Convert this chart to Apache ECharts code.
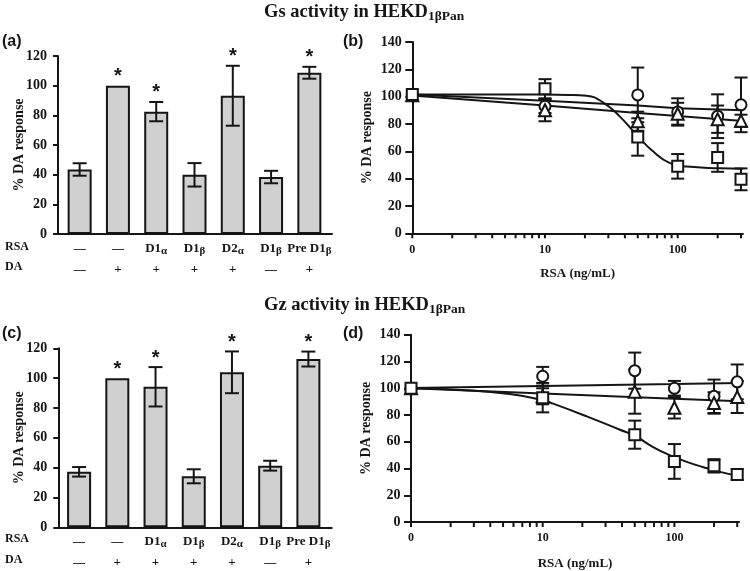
<!DOCTYPE html>
<html><head><meta charset="utf-8">
<script src="https://cdn.jsdelivr.net/npm/echarts@6/dist/echarts.min.js"></script>
<style>html,body{margin:0;padding:0;background:#fff}#c{width:750px;height:571px}</style>
</head><body><div id="c"></div>
<script>
// ---------------- DATA ----------------
const rsaMain  = ['—','—','D1','D1','D2','D1','Pre D1'];
const rsaSub   = ['','','α','β','α','β','β'];
const daLabels = ['—','+','+','+','+','—','+'];

const gsMeans = [43.5, 100, 82.5, 39.9, 93.2, 38.4, 108.7];
const gsErr   = [4.2, 0, 6.5, 7.9, 20.2, 4.2, 4.0];
const gsSig   = [0, 1, 1, 0, 1, 0, 1];

const gzMeans = [37.2, 100, 94.2, 34.2, 103.9, 41.3, 112.8];
const gzErr   = [3.2, 0, 13.2, 4.7, 14.0, 3.3, 5.0];
const gzSig   = [0, 1, 1, 0, 1, 0, 1];

const barTicks = [0, 20, 40, 60, 80, 100, 120];
const doseTicks = [0, 20, 40, 60, 80, 100, 120, 140];

// RSA concentrations (ng/mL); 0 is drawn at the axis origin (labelled "0")
const conc = [0, 10, 50, 100, 200, 300];

const gsCircle    = [101.5, 93, 101.3, 88.8, 85.7, 94];
const gsCircleErr = [0, 5, 20, 10, 16, 20];
const gsTri       = [101, 90, 82, 87.5, 83.5, 82.3];
const gsTriErr    = [0, 8, 7, 8, 10, 4.5];
const gsSq        = [101.5, 105.8, 70.5, 49, 55.5, 39.5];
const gsSqErr     = [0, 7, 13.7, 9, 10.5, 8];

const gzCircle    = [100, 109, 113.2, 100, 94, 104.8];
const gzCircleErr = [0, 7, 13.5, 5.5, 12.5, 13];
const gzTri       = [100, 94, 97.5, 85.4, 89, 93.5];
const gzTriErr    = [0, 6, 16.5, 8, 8, 12];
const gzSq        = [100, 93, 65.3, 45.3, 42, 35.6];
const gzSqErr     = [0, 11, 10.5, 13, 5, 4];

// fitted curves
const gsCircleFitX = [1, 10, 50, 100, 310];
const gsCircleFitY = [101.5, 97, 93.5, 91.5, 90];
const gsTriFitX    = [1, 10, 50, 100, 310];
const gsTriFitY    = [100.8, 93.5, 88, 85.8, 82.2];
const gsSqFitX     = [1, 10, 15, 20.6, 27.5, 36.7, 49, 65.5, 87.4, 117, 209, 310];
const gsSqFitY     = [101.5, 101.5, 101.3, 100.6, 95.7, 85.4, 72, 59.8, 51.3, 48.8, 47.6, 47.2];

const gzCircleFitX = [1, 10, 100, 310];
const gzCircleFitY = [100.3, 101.8, 103.2, 104];
const gzTriFitX    = [1, 10, 100, 310];
const gzTriFitY    = [100, 96.1, 92.2, 90.3];
const gzSqFitX     = [1, 2.4, 5.8, 10, 12, 21.6, 38.6, 50, 69, 92, 124, 166, 222, 310];
const gzSqFitY     = [100, 98.8, 95.5, 91, 88.5, 79, 69, 64.5, 56, 50, 45, 41, 37.5, 34.3];

const majorLogTicks = [1, 10, 100];
const minorLogTicks = [2,3,4,5,6,7,8,9,20,30,40,50,60,70,80,90,200,300];

// ---------------- CHART ----------------
const SERIF = "'Liberation Serif','Times New Roman',serif";
const SANS = "'Liberation Sans',Arial,sans-serif";
const INK = '#151515';
const chart = echarts.init(document.getElementById('c'));

const xPlot = conc.map(c => c === 0 ? 1 : c);
const zip = (xs, ys) => xs.map((x, i) => [x, ys[i]]);

function catLabel(v, i) {
  const r = rsaMain[i] === '—' ? '{k|—}' : '{m|' + rsaMain[i] + '}' + (rsaSub[i] ? '{s|' + rsaSub[i] + '}' : '');
  const d = daLabels[i] === '—' ? '{k|—}' : '{m|' + daLabels[i] + '}';
  return r + '\n' + d;
}
const catRich = {
  m: {fontFamily: SERIF, fontWeight: 'bold', fontSize: 13, color: INK, lineHeight: 21},
  s: {fontFamily: SERIF, fontWeight: 'bold', fontSize: 11, color: INK, lineHeight: 21, padding: [5, 0, 0, 0]},
  k: {fontFamily: SERIF, fontWeight: 'bold', fontSize: 12, color: INK, lineHeight: 21}
};

function frameX(gi) {
  return {gridIndex: gi, type: 'value', min: 0, max: 1, axisLine: {lineStyle: {color: INK, width: 2}},
    axisTick: {show: false}, axisLabel: {show: false}, splitLine: {show: false}};
}
function catX(gi) {
  return {gridIndex: gi, type: 'category', data: rsaMain.map((_, i) => String(i)),
    axisLine: {show: false}, axisTick: {show: false}, splitLine: {show: false},
    axisLabel: {interval: 0, margin: 4, formatter: catLabel, rich: catRich}};
}
function logX(gi, margin, gap) {
  return {gridIndex: gi, type: 'log', logBase: 10, min: 1, max: 310,
    axisLine: {onZero: false, lineStyle: {color: INK, width: 2}}, axisTick: {show: false},
    splitLine: {show: false}, minorTick: {show: false},
    axisLabel: {margin: margin, showMaxLabel: false, fontFamily: SERIF, fontWeight: 'bold', fontSize: 12, color: INK,
      formatter: v => majorLogTicks.some(t => Math.abs(t - v) < 1e-6) ? (Math.abs(v - 1) < 1e-6 ? '0' : String(Math.round(v))) : ''},
    name: 'RSA (ng/mL)', nameLocation: 'middle', nameGap: gap, nameMoveOverlap: false,
    nameTextStyle: {fontFamily: SERIF, fontWeight: 'bold', fontSize: 13, color: INK}};
}
function valY(gi, ticks, tickLen, margin, gap, show) {
  const o = {gridIndex: gi, type: 'value', min: ticks[0], max: ticks[ticks.length - 1], interval: ticks[1] - ticks[0]};
  if (!show) { o.show = false; return o; }
  Object.assign(o, {
    axisLine: {show: true, onZero: false, lineStyle: {color: INK, width: 2}},
    axisTick: {show: true, length: tickLen, lineStyle: {color: INK, width: 2}},
    splitLine: {show: false},
    axisLabel: {margin: margin, fontFamily: SERIF, fontWeight: 'bold', fontSize: 14, color: INK},
    name: '% DA response', nameLocation: 'middle', nameGap: gap, nameRotate: 90, nameMoveOverlap: false,
    nameTextStyle: {fontFamily: SERIF, fontWeight: 'bold', fontSize: 14, color: INK}
  });
  return o;
}

function lineEl(x1, y1, x2, y2) {
  return {type: 'line', shape: {x1, y1, x2, y2}, style: {stroke: INK, lineWidth: 2}};
}
function barErrSeries(xi, means, errs, sig) {
  return {type: 'custom', xAxisIndex: xi, yAxisIndex: xi, z: 5, clip: false,
    data: means.map((m, i) => [i, m - errs[i], m + errs[i], sig[i]]),
    renderItem: (p, api) => {
      const i = api.value(0), lo = api.value(1), hi = api.value(2), s = api.value(3);
      const a = api.coord([i, lo]), b = api.coord([i, hi]);
      const kids = [];
      if (hi - lo > 0.01) {
        kids.push(lineEl(a[0], a[1], b[0], b[1]), lineEl(a[0] - 7, a[1], a[0] + 7, a[1]), lineEl(b[0] - 7, b[1], b[0] + 7, b[1]));
      }
      if (s) kids.push({type: 'text', style: {text: '*', x: b[0], y: b[1] - 9, align: 'center', verticalAlign: 'middle',
        textAlign: 'center', textVerticalAlign: 'middle', font: 'bold 20px ' + SANS, fill: INK}});
      return {type: 'group', children: kids};
    }};
}
function ptErrSeries(xi, means, errs) {
  return {type: 'custom', xAxisIndex: xi, yAxisIndex: xi, z: 4, clip: false,
    data: means.map((m, i) => [xPlot[i], m - errs[i], m + errs[i]]).filter(d => d[2] - d[1] > 0.01),
    renderItem: (p, api) => {
      const x = api.value(0), a = api.coord([x, api.value(1)]), b = api.coord([x, api.value(2)]);
      return {type: 'group', children: [lineEl(a[0], a[1], b[0], b[1]),
        lineEl(a[0] - 6.5, a[1], a[0] + 6.5, a[1]), lineEl(b[0] - 6.5, b[1], b[0] + 6.5, b[1])]};
    }};
}
function tickSeries(xi) {
  return {type: 'custom', xAxisIndex: xi, yAxisIndex: xi, z: 3, clip: false, silent: true,
    data: majorLogTicks.concat(minorLogTicks).map(v => [v, 0]),
    renderItem: (p, api) => {
      const a = api.coord([api.value(0), 0]);
      return lineEl(a[0], a[1], a[0], a[1] + 5);
    }};
}
function fitSeries(xi, xs, ys, smooth) {
  return {type: 'line', xAxisIndex: xi, yAxisIndex: xi, data: zip(xs, ys), smooth: smooth, showSymbol: false,
    symbol: 'none', lineStyle: {color: INK, width: 2}, z: 2, silent: true};
}
function ptSeries(xi, ys, sym, size) {
  return {type: 'scatter', xAxisIndex: xi, yAxisIndex: xi, data: zip(xPlot, ys), symbol: sym, symbolSize: size, z: 6,
    itemStyle: {color: '#fff', borderColor: INK, borderWidth: 2, opacity: 1}};
}

const titleRich = {
  a: {fontFamily: SERIF, fontWeight: 'bold', fontSize: 18.5, color: INK, lineHeight: 24},
  s: {fontFamily: SERIF, fontWeight: 'bold', fontSize: 13.5, color: INK, lineHeight: 24, padding: [10, 0, 0, 0]}
};

const option = {
  animation: false,
  backgroundColor: '#fff',
  title: [
    {text: '{a|Gs activity in HEKD}{s|1βPan}', left: 264, top: 0, padding: 0, textStyle: {rich: titleRich}},
    {text: '{a|Gz activity in HEKD}{s|1βPan}', left: 264, top: 293, padding: 0, textStyle: {rich: titleRich}}
  ],
  graphic: [
    ['(a)', 2, 43], ['(b)', 343, 43], ['(c)', 2, 335], ['(d)', 343, 335]
  ].map(t => ({type: 'text', left: t[1], top: t[2] - 9, style: {text: t[0], font: 'bold 16px ' + SANS, fill: INK}}))
  .concat([
    ['RSA', 248], ['DA', 268], ['RSA', 540], ['DA', 561]
  ].map(t => ({type: 'text', left: 5, top: t[1] - 7, style: {text: t[0], font: 'bold 12px ' + SERIF, fill: INK}}))),
  grid: [
    {left: 58, top: 56, width: 274, height: 178},
    {left: 60.5, top: 56, width: 268, height: 178},
    {left: 412.3, top: 42, width: 330.6, height: 191.3},
    {left: 58.3, top: 348.3, width: 273.4, height: 179},
    {left: 60, top: 348.3, width: 267.5, height: 179},
    {left: 411, top: 334.8, width: 328.1, height: 192.9}
  ],
  xAxis: [frameX(0), catX(1), logX(2, 11, 34), frameX(3), catX(4), logX(5, 10, 35)],
  yAxis: [
    valY(0, barTicks, 5, 11, 32, true), valY(1, barTicks, 0, 0, 0, false),
    valY(2, doseTicks, 7, 10.5, 38, true),
    valY(3, barTicks, 5, 11, 32, true), valY(4, barTicks, 0, 0, 0, false),
    valY(5, doseTicks, 7, 10.5, 38, true)
  ],
  series: [
    {type: 'bar', xAxisIndex: 1, yAxisIndex: 1, data: gsMeans, barWidth: 24, z: 2,
      itemStyle: {color: '#d0d0d0', borderColor: INK, borderWidth: 2}},
    barErrSeries(1, gsMeans, gsErr, gsSig),
    {type: 'bar', xAxisIndex: 4, yAxisIndex: 4, data: gzMeans, barWidth: 24, z: 2,
      itemStyle: {color: '#d0d0d0', borderColor: INK, borderWidth: 2}},
    barErrSeries(4, gzMeans, gzErr, gzSig),

    tickSeries(2),
    fitSeries(2, gsCircleFitX, gsCircleFitY, false),
    fitSeries(2, gsTriFitX, gsTriFitY, false),
    fitSeries(2, gsSqFitX, gsSqFitY, true),
    ptErrSeries(2, gsCircle, gsCircleErr),
    ptErrSeries(2, gsTri, gsTriErr),
    ptErrSeries(2, gsSq, gsSqErr),
    ptSeries(2, gsCircle, 'circle', 11),
    ptSeries(2, gsTri, 'triangle', 12),
    ptSeries(2, gsSq, 'rect', 11),

    tickSeries(5),
    fitSeries(5, gzCircleFitX, gzCircleFitY, false),
    fitSeries(5, gzTriFitX, gzTriFitY, false),
    fitSeries(5, gzSqFitX, gzSqFitY, true),
    ptErrSeries(5, gzCircle, gzCircleErr),
    ptErrSeries(5, gzTri, gzTriErr),
    ptErrSeries(5, gzSq, gzSqErr),
    ptSeries(5, gzCircle, 'circle', 11),
    ptSeries(5, gzTri, 'triangle', 12),
    ptSeries(5, gzSq, 'rect', 11)
  ]
};
chart.setOption(option);
</script></body></html>
